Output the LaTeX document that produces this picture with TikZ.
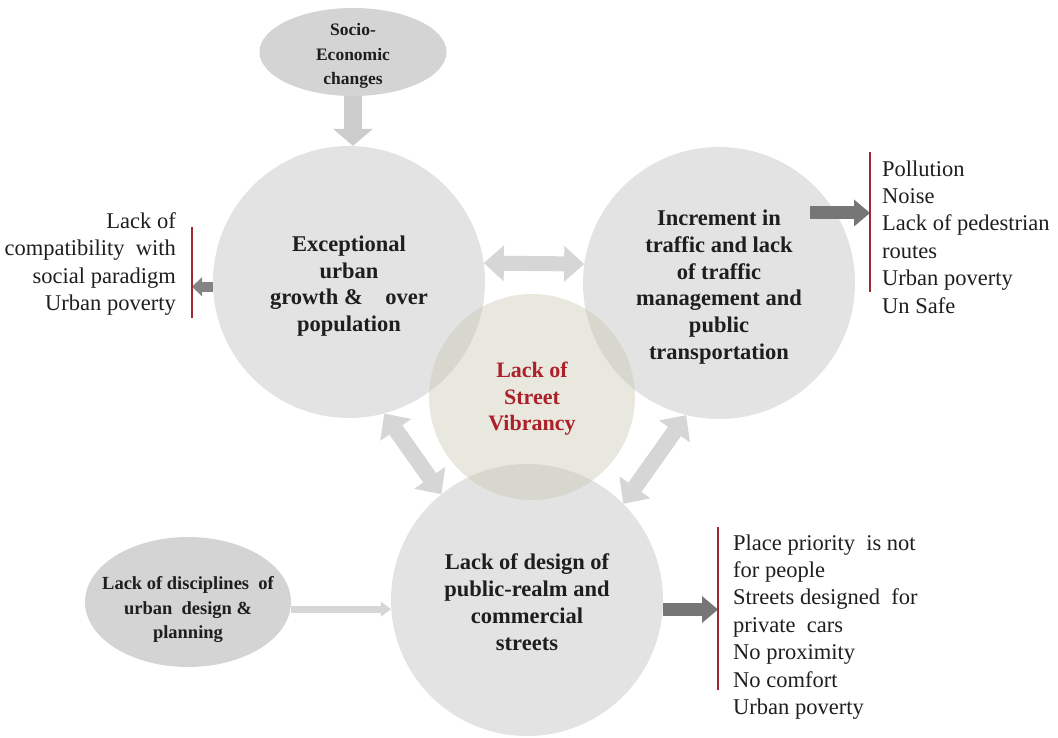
\documentclass[tikz,border=0pt]{standalone}
\usepackage{fontspec}
\setmainfont{Liberation Serif}
\usetikzlibrary{arrows.meta,shapes.geometric}
\definecolor{circfill}{RGB}{227,227,227}
\definecolor{ellfill}{RGB}{212,212,212}
\definecolor{vibfill}{RGB}{200,198,172}
\definecolor{lightarr}{RGB}{214,214,214}
\definecolor{downarrc}{RGB}{204,204,204}
\definecolor{darkarrc}{RGB}{118,118,118}
\definecolor{vibred}{RGB}{172,32,42}
\definecolor{redrulec}{RGB}{160,40,50}
\definecolor{textc}{RGB}{30,30,30}
\begin{document}
\begin{tikzpicture}[x=1pt,y=-1pt,
  bigcirc/.style={circle,fill=circfill,minimum size=272pt,inner sep=0pt},
  ellnode/.style={ellipse,fill=ellfill,inner sep=0pt},
  circtext/.style={align=center,inner sep=0pt,text=textc,font=\bfseries\fontsize{22.5}{26.8}\selectfont},
  smalltext/.style={align=center,inner sep=0pt,text=textc,font=\bfseries\fontsize{17.5}{24.5}\selectfont},
  listtext/.style={inner sep=0pt,text=textc,font=\fontsize{22.5}{27.4}\selectfont},
  redrule/.style={draw=redrulec,line width=2pt},
  lightdbl/.style={draw=lightarr,line width=15pt,{Triangle[width=36pt,length=20pt,line width=0pt]}-{Triangle[width=36pt,length=20pt,line width=0pt]}},
  diagdbl/.style={draw=lightarr,line width=16pt,{Triangle[width=38pt,length=20pt,line width=0pt]}-{Triangle[width=38pt,length=20pt,line width=0pt]}},
  downarr/.style={draw=downarrc,line width=18pt,-{Triangle[width=40pt,length=17pt,line width=0pt]}},
  darkarr/.style={draw=darkarrc,line width=13pt,-{Triangle[width=27pt,length=16pt,line width=0pt]}},
  smalldark/.style={draw=darkarrc!90,line width=10pt,-{Triangle[width=19pt,length=10pt,line width=0pt]}},
  thinarr/.style={draw=lightarr,line width=7pt,-{Triangle[width=15pt,length=10pt,line width=0pt]}}
]
\useasboundingbox (0,0) rectangle (1058,738);

% shapes
\node[ellnode,minimum width=187pt,minimum height=88pt] (socio) at (353,52) {};
\node[bigcirc] (c1) at (349,282) {};
\node[bigcirc] (c2) at (719,283) {};
\node[bigcirc] (c3) at (527,600) {};
\node[ellnode,minimum width=206pt,minimum height=130pt] (disc) at (188,602) {};
\node[circle,fill=vibfill,fill opacity=0.4,minimum size=206pt,inner sep=0pt] (cv) at (532,397) {};

% red rules
\coordinate (lt) at (192,227); \coordinate (lb) at (192,318);
\coordinate (rt) at (870,152); \coordinate (rb) at (870,292);
\coordinate (bt) at (718,527); \coordinate (bb) at (718,690);
\coordinate (a2s) at (810,213);

% connectors
\draw[downarr] (socio.south) -- (socio.south |- c1.north);
\draw[lightdbl] (c1.8) -- (c2.172);
\draw[diagdbl] (c1.-75) -- (c3.129);
\draw[diagdbl] (c2.-104) -- (c3.45);
\draw[darkarr] (a2s) -- (a2s -| rt);
\draw[darkarr] (c3.-4) -- (c3.-4 -| bt);
\draw[smalldark] (c1.182) -- (c1.182 -| lt);
\draw[thinarr] (disc.-4) -- (disc.-4 -| c3.183);

\draw[redrule] (lt) -- (lb);
\draw[redrule] (rt) -- (rb);
\draw[redrule] (bt) -- (bb);

% texts
\node[smalltext] (sociot) at (353,56) {Socio-\\Economic\\changes};
\node[circtext] (c1t) at (349,286) {Exceptional\\urban\\growth \&\quad over\\population};
\node[circtext] (c2t) at (719,287) {Increment in\\traffic and lack\\of traffic\\management and\\public\\transportation};
\node[circtext] (c3t) at (527,602) {Lack of design of\\public-realm and\\commercial\\streets};
\node[circtext,text=vibred,font=\bfseries\fontsize{22}{26.5}\selectfont] (cvt) at (532,399) {Lack of\\Street\\Vibrancy};
\node[smalltext,font=\bfseries\fontsize{18.5}{24.5}\selectfont] (disct) at (188,610) {Lack of disciplines\enspace of\\urban\enspace design \&\\planning};

\node[listtext,align=right,anchor=east] (leftlist) at (176,264) {Lack of\\compatibility\enspace with\\social paradigm\\Urban poverty};
\node[listtext,align=left,anchor=west] (toplist) at (882,237) {Pollution\\Noise\\Lack of pedestrian\\routes\\Urban poverty\\Un Safe};
\node[listtext,align=left,anchor=west] (botlist) at (733,627) {Place priority\enspace is not\\for people\\Streets designed\enspace for\\private\enspace cars\\No proximity\\No comfort\\Urban poverty};
\end{tikzpicture}
\end{document}
